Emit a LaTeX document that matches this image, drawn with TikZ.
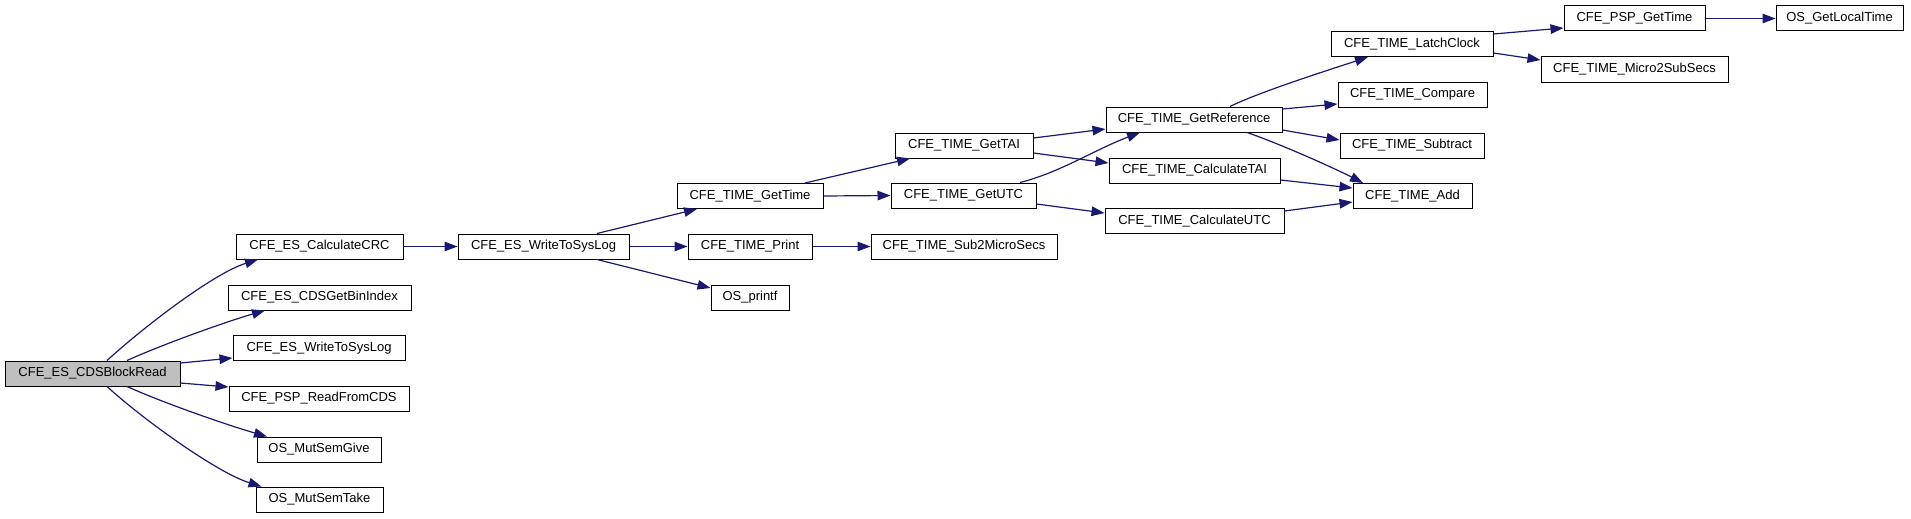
\documentclass[tikz,border=0pt]{standalone}
\usepackage{fontspec}
\setmainfont{Liberation Sans}
\usetikzlibrary{arrows.meta,calc}
\definecolor{edgeblue}{HTML}{191970}
\definecolor{rootgray}{HTML}{BFBFBF}
\begin{document}
\begin{tikzpicture}[x=1pt,y=-1pt,
  fn/.style={draw=black, line width=1pt, inner sep=0pt, minimum height=25pt,
    font=\fontsize{13}{15}\selectfont, fill=white},
  cl/.style={draw=edgeblue, line width=1.2pt, -{Triangle[length=13pt,width=9.5pt]}}]
\useasboundingbox (0,0) rectangle (1911,519);
% column 1
\node[fn, fill=rootgray, minimum width=175pt] (blockread) at (92.5,373.5) {CFE\_ES\_CDSBlockRead};
% column 2
\node[fn, minimum width=167pt] (calccrc) at (319.5,246.5) {CFE\_ES\_CalculateCRC};
\node[fn, minimum width=183pt] (getbin) at (319.5,297.5) {CFE\_ES\_CDSGetBinIndex};
\node[fn, minimum width=172pt] (wsystwo) at (319,348) {CFE\_ES\_WriteToSysLog};
\node[fn, minimum width=180pt] (readcds) at (319,398.5) {CFE\_PSP\_ReadFromCDS};
\node[fn, minimum width=124pt] (give) at (319,449.5) {OS\_MutSemGive};
\node[fn, minimum width=127pt] (take) at (319.5,499.5) {OS\_MutSemTake};
% column 3
\node[fn, minimum width=171pt] (wsysone) at (543.5,246.5) {CFE\_ES\_WriteToSysLog};
% column 4
\node[fn, minimum width=146pt] (gettime) at (750,196) {CFE\_TIME\_GetTime};
\node[fn, minimum width=124pt] (print) at (750,246.5) {CFE\_TIME\_Print};
\node[fn, minimum width=78pt] (printf) at (750,297.5) {OS\_printf};
% column 5
\node[fn, minimum width=138pt] (gettai) at (964,145.5) {CFE\_TIME\_GetTAI};
\node[fn, minimum width=145pt] (getutc) at (963.5,195.5) {CFE\_TIME\_GetUTC};
\node[fn, minimum width=186pt] (subtwo) at (964,246.5) {CFE\_TIME\_Sub2MicroSecs};
% column 6
\node[fn, minimum width=176pt] (getref) at (1194,119.5) {CFE\_TIME\_GetReference};
\node[fn, minimum width=171pt] (calctai) at (1194.5,170.5) {CFE\_TIME\_CalculateTAI};
\node[fn, minimum width=179pt] (calcutc) at (1194.5,221) {CFE\_TIME\_CalculateUTC};
% column 7
\node[fn, minimum width=162pt] (latch) at (1412,44) {CFE\_TIME\_LatchClock};
\node[fn, minimum width=149pt] (compare) at (1412.5,94.5) {CFE\_TIME\_Compare};
\node[fn, minimum width=144pt] (subtract) at (1412,145.5) {CFE\_TIME\_Subtract};
\node[fn, minimum width=119pt] (add) at (1412.5,196) {CFE\_TIME\_Add};
% column 8
\node[fn, minimum width=141pt] (pspgettime) at (1634.5,18.5) {CFE\_PSP\_GetTime};
\node[fn, minimum width=187pt] (microtwo) at (1634.5,69.5) {CFE\_TIME\_Micro2SubSecs};
% column 9
\node[fn, minimum width=127pt] (localtime) at (1839.5,18.5) {OS\_GetLocalTime};
% edges from CFE_ES_CDSBlockRead
\draw[cl] ($(blockread.north)+(14.5,0)$) .. controls +(35,-32) and +(-45,14) .. ($(calccrc.south)+(-61.5,0)$);
\draw[cl] ($(blockread.north)+(34.5,0)$) .. controls +(40,-18) and +(-35,10) .. ($(getbin.south)+(-54.5,0)$);
\draw[cl] ($(blockread.east)+(0,-10.5)$) -- ($(wsystwo.west)+(0,10)$);
\draw[cl] ($(blockread.east)+(0,9.5)$) -- ($(readcds.west)+(0,-11.5)$);
\draw[cl] ($(blockread.south)+(34.5,0)$) .. controls +(40,18) and +(-35,-10) .. ($(give.north)+(-52,0)$);
\draw[cl] ($(blockread.south)+(14.5,0)$) .. controls +(35,32) and +(-45,-14) .. ($(take.north)+(-58,0)$);
% CRC -> WriteToSysLog
\draw[cl] (calccrc.east) -- (wsysone.west);
% WriteToSysLog
\draw[cl] ($(wsysone.north)+(53.5,0)$) -- ($(gettime.south)+(-53,0)$);
\draw[cl] (wsysone.east) -- (print.west);
\draw[cl] ($(wsysone.south)+(53.5,0)$) -- ($(printf.west)+(0,-9.5)$);
% GetTime
\draw[cl] ($(gettime.north)+(55,0)$) -- ($(gettai.south)+(-54,0)$);
\draw[cl] (gettime.east) -- (getutc.west);
% Print
\draw[cl] (print.east) -- (subtwo.west);
% GetTAI
\draw[cl] ($(gettai.east)+(0,-7.5)$) -- ($(getref.west)+(0,9.5)$);
\draw[cl] ($(gettai.east)+(0,7.5)$) -- ($(calctai.west)+(0,-7.5)$);
% GetUTC
\draw[cl] ($(getutc.north)+(56.5,0)$) .. controls +(40,-10) and +(-45,17) .. ($(getref.south)+(-54,0)$);
\draw[cl] ($(getutc.east)+(0,8.5)$) -- ($(calcutc.west)+(0,-8)$);
% GetReference
\draw[cl] ($(getref.north)+(36,0)$) .. controls +(30,-15) and +(-30,10) .. ($(latch.south)+(-44,0)$);
\draw[cl] ($(getref.east)+(0,-10.5)$) -- ($(compare.west)+(0,9.5)$);
\draw[cl] ($(getref.east)+(0,10.5)$) -- ($(subtract.west)+(0,-5.5)$);
\draw[cl] ($(getref.south)+(53,0)$) .. controls +(35,12) and +(-25,-13) .. ($(add.north)+(-49.5,0)$);
% CalculateTAI / UTC
\draw[cl] ($(calctai.east)+(0,9.5)$) -- ($(add.west)+(0,-8)$);
\draw[cl] ($(calcutc.east)+(0,-10)$) -- ($(add.west)+(0,6)$);
% LatchClock
\draw[cl] ($(latch.east)+(0,-10)$) -- ($(pspgettime.west)+(0,9.5)$);
\draw[cl] ($(latch.east)+(0,9)$) -- ($(microtwo.west)+(0,-9.5)$);
% PSP_GetTime
\draw[cl] (pspgettime.east) -- (localtime.west);
\end{tikzpicture}
\end{document}
